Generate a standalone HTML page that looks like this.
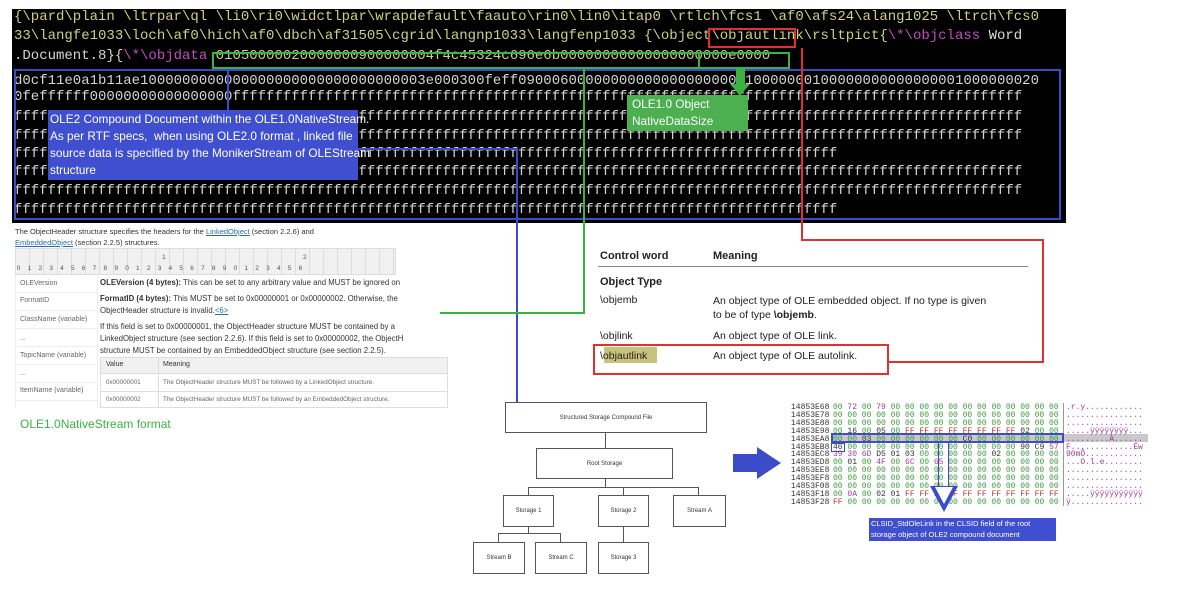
<!DOCTYPE html>
<html><head><meta charset="utf-8"><style>
*{margin:0;padding:0;box-sizing:border-box}
body{width:1200px;height:608px;background:#fff;position:relative;overflow:hidden;font-family:"Liberation Sans",sans-serif}
.a{position:absolute}
.blk{left:12px;top:9px;width:1054px;height:214px;background:#000}
.ml{position:absolute;left:14px;font-family:"Liberation Mono",monospace;font-size:14px;line-height:18px;white-space:pre;color:#d4d4d4}
.y{color:#cfcf7e}.m{color:#c44ac4}
.lbl{color:#fff;font-size:11.8px;line-height:17px;white-space:nowrap}
.sm{font-size:7px;color:#666}
.hx{position:absolute;font-family:"Liberation Mono",monospace;font-size:8px;line-height:7.9px;white-space:pre}
.g{color:#3a9a3a}.p{color:#a03a9a}.r{color:#c03030}.k{color:#333}
.tb{position:absolute;border:1px solid #555;background:#fff;font-size:6px;color:#333;display:flex;align-items:center;justify-content:center}
.ln{position:absolute;background:#555}
.dt{position:absolute;left:100px;font-size:7.8px;color:#333;white-space:nowrap}
</style></head><body>
<div class="a blk"></div>
<div class="ml y" style="top:8px">{\pard\plain \ltrpar\ql \li0\ri0\widctlpar\wrapdefault\faauto\rin0\lin0\itap0 \rtlch\fcs1 \af0\afs24\alang1025 \ltrch\fcs0</div>
<div class="ml y" style="top:27px">33\langfe1033\loch\af0\hich\af0\dbch\af31505\cgrid\langnp1033\langfenp1033 {\object\objautlink\rsltpict{<span class="m">\*\objclass</span> <span style="color:#ddd">Word</span></div>
<div class="ml" style="top:47px">.Document.8}{<span class="m">\*\objdata</span> <span class="y">01050000020000000900000004f4c45324c696e6b00000000000000000000e0000</span></div>
<div class="ml" style="top:72px">d0cf11e0a1b11ae1000000000000000000000000000000003e000300feff09000600000000000000000000010000000100000000000000001000000020</div>
<div class="ml" style="top:88px">0feffffff00000000000000000ffffffffffffffffffffffffffffffffffffffffffffffffffffffffffffffffffffffffffffffffffffffffffffff</div>
<div class="ml" style="top:108px">ffffffffffffffffffffffffffffffffffffffffffffffffffffffffffffffffffffffffffffffffffffffffffffffffffffffffffffffffffffffff</div>
<div class="ml" style="top:127px">ffffffffffffffffffffffffffffffffffffffffffffffffffffffffffffffffffffffffffffffffffffffffffffffffffffffffffffffffffffffff</div>
<div class="ml" style="top:145px">ffffffffffffffffffffffffffffffffffffffffffffffffffffffffffffffffffffffffffffffffffffffffffffffffff</div>
<div class="ml" style="top:163px">ffffffffffffffffffffffffffffffffffffffffffffffffffffffffffffffffffffffffffffffffffffffffffffffffffffffffffffffffffffffff</div>
<div class="ml" style="top:182px">ffffffffffffffffffffffffffffffffffffffffffffffffffffffffffffffffffffffffffffffffffffffffffffffffffffffffffffffffffffffff</div>
<div class="ml" style="top:201px">ffffffffffffffffffffffffffffffffffffffffffffffffffffffffffffffffffffffffffffffffffffffffffffffffff</div>
<!-- overlays -->
<div class="a" style="left:212px;top:52px;width:578px;height:17px;border:2px solid #3cb043"></div>
<div class="a" style="left:698px;top:52px;width:92px;height:17px;border:2px solid #3cb043"></div>
<div class="a" style="left:708px;top:28px;width:88px;height:20px;border:2px solid #e03030"></div>
<div class="a" style="left:14px;top:69px;width:1047px;height:151px;border:2px solid #3c4bc8"></div>
<div class="a" style="left:227px;top:69px;width:2px;height:41px;background:#3c4bc8"></div>
<div class="a" style="left:48px;top:110px;width:310px;height:70px;background:#3f4fd0"></div>
<div class="a lbl" style="left:50px;top:111px">OLE2 Compound Document within the OLE1.0NativeStream.<br>As per RTF specs,&nbsp; when using OLE2.0 format , linked file<br>source data is specified by the MonikerStream of OLEStream<br>structure</div>
<div class="a" style="left:736px;top:69px;width:9px;height:16px;background:#3cb043"></div>
<div class="a" style="left:730px;top:84px;width:0;height:0;border-left:10px solid transparent;border-right:10px solid transparent;border-top:12px solid #3cb043"></div>
<div class="a" style="left:627px;top:95px;width:121px;height:36px;background:#4caf50"></div>
<div class="a lbl" style="left:632px;top:96px">OLE1.0 Object<br>NativeDataSize</div>
<!-- connectors -->
<div class="a" style="left:358px;top:148px;width:160px;height:2px;background:#3c4bc8"></div>
<div class="a" style="left:516px;top:148px;width:2px;height:254px;background:#3c4bc8"></div>
<div class="a" style="left:583px;top:69px;width:2px;height:245px;background:#3cb043"></div>
<div class="a" style="left:440px;top:312px;width:145px;height:2px;background:#3cb043"></div>
<div class="a" style="left:801px;top:48px;width:2px;height:193px;background:#e03030"></div>
<div class="a" style="left:801px;top:239px;width:243px;height:2px;background:#e03030"></div>
<div class="a" style="left:1042px;top:239px;width:2px;height:124px;background:#e03030"></div>
<div class="a" style="left:888px;top:361px;width:156px;height:2px;background:#e03030"></div>
<!-- right table -->
<div class="a" style="left:600px;top:250px;font-size:11px;font-weight:bold;color:#222">Control word</div>
<div class="a" style="left:713px;top:250px;font-size:11px;font-weight:bold;color:#222">Meaning</div>
<div class="a" style="left:598px;top:266px;width:430px;height:1px;background:#888"></div>
<div class="a" style="left:600px;top:276px;font-size:11px;font-weight:bold;color:#222">Object Type</div>
<div class="a" style="left:600px;top:294px;font-size:10.5px;color:#222">\objemb</div>
<div class="a" style="left:713px;top:294px;font-size:10.5px;color:#222;line-height:14px">An object type of OLE embedded object. If no type is given<br>to be of type <b>\objemb</b>.</div>
<div class="a" style="left:600px;top:330px;font-size:10.5px;color:#222">\objlink</div>
<div class="a" style="left:713px;top:330px;font-size:10.5px;color:#222">An object type of OLE link.</div>
<div class="a" style="left:604px;top:347px;width:53px;height:16px;background:#c8c27a"></div>
<div class="a" style="left:600px;top:350px;font-size:10.5px;color:#222">\objautlink</div>
<div class="a" style="left:713px;top:350px;font-size:10.5px;color:#222">An object type of OLE autolink.</div>
<div class="a" style="left:593px;top:344px;width:296px;height:31px;border:2px solid #e03030"></div>
<!-- left doc -->
<div class="a" style="left:15px;top:226px;font-size:7.5px;color:#333;line-height:11px">The ObjectHeader structure specifies the headers for the <u style="color:#2a6db3">LinkedObject</u> (section 2.2.6) and<br><u style="color:#2a6db3">EmbeddedObject</u> (section 2.2.5) structures.</div>
<div class="a" style="left:15px;top:248px;width:381px;height:27px;background:#f1f1f1;border:1px solid #ddd;background-image:repeating-linear-gradient(90deg,transparent 0 13px,#ddd 13px 14px)"></div>
<div class="a" style="left:15px;top:265px;width:381px;font-size:6.5px;color:#555;white-space:pre"> 0    1    2    3    4    5    6    7    8    9    0    1    2    3    4    5    6    7    8    9    0    1    2    3    4    5    6</div>
<div class="a" style="left:162px;top:254px;font-size:6.5px;color:#555">1</div>
<div class="a" style="left:303px;top:254px;font-size:6.5px;color:#555">2</div>
<div class="a sm" style="left:20px;top:280px">OLEVersion</div>
<div class="a sm" style="left:20px;top:297px">FormatID</div>
<div class="a sm" style="left:20px;top:316px">ClassName (variable)</div>
<div class="a sm" style="left:20px;top:335px">...</div>
<div class="a sm" style="left:20px;top:352px">TopicName (variable)</div>
<div class="a sm" style="left:20px;top:370px">...</div>
<div class="a sm" style="left:20px;top:387px">ItemName (variable)</div>
<div class="a" style="left:15px;top:275px;width:83px;height:133px;border-right:1px solid #eee;border-left:1px solid #eee;background-image:repeating-linear-gradient(180deg,transparent 0 17px,#eee 17px 18px)"></div>
<div class="dt" style="top:278px"><b>OLEVersion (4 bytes):</b> This can be set to any arbitrary value and MUST be ignored on</div>
<div class="dt" style="top:294px"><b>FormatID (4 bytes):</b> This MUST be set to 0x00000001 or 0x00000002. Otherwise, the</div>
<div class="dt" style="top:306px">ObjectHeader structure is invalid.<u style="color:#2a6db3">&lt;6&gt;</u></div>
<div class="dt" style="top:322px">If this field is set to 0x00000001, the ObjectHeader structure MUST be contained by a</div>
<div class="dt" style="top:334px">LinkedObject structure (see section 2.2.6). If this field is set to 0x00000002, the ObjectH</div>
<div class="dt" style="top:346px">structure MUST be contained by an EmbeddedObject structure (see section 2.2.5).</div>
<div class="a" style="left:100px;top:357px;width:348px;height:17px;background:#f1f1f1;border:1px solid #ddd"></div>
<div class="a" style="left:100px;top:374px;width:348px;height:34px;border:1px solid #ddd;border-top:none"></div>
<div class="a" style="left:158px;top:357px;width:1px;height:51px;background:#ddd"></div>
<div class="a" style="left:100px;top:391px;width:348px;height:1px;background:#ddd"></div>
<div class="a" style="left:106px;top:361px;font-size:7px;color:#333">Value</div>
<div class="a" style="left:163px;top:361px;font-size:7px;color:#333">Meaning</div>
<div class="a sm" style="left:106px;top:379px;font-size:6.3px">0x00000001</div>
<div class="a sm" style="left:163px;top:379px;font-size:6.3px">The ObjectHeader structure MUST be followed by a LinkedObject structure.</div>
<div class="a sm" style="left:106px;top:396px;font-size:6.3px">0x00000002</div>
<div class="a sm" style="left:163px;top:396px;font-size:6.3px">The ObjectHeader structure MUST be followed by an EmbeddedObject structure.</div>
<div class="a" style="left:20px;top:417px;font-size:12px;color:#3cb043">OLE1.0NativeStream format</div>
<!-- tree -->
<div class="tb" style="left:505px;top:402px;width:202px;height:31px">Structured Storage Compound File</div>
<div class="ln" style="left:605px;top:433px;width:1px;height:15px"></div>
<div class="tb" style="left:536px;top:448px;width:137px;height:31px">Root Storage</div>
<div class="ln" style="left:605px;top:479px;width:1px;height:8px"></div>
<div class="ln" style="left:528px;top:487px;width:171px;height:1px"></div>
<div class="ln" style="left:528px;top:487px;width:1px;height:8px"></div>
<div class="ln" style="left:623px;top:487px;width:1px;height:8px"></div>
<div class="ln" style="left:698px;top:487px;width:1px;height:8px"></div>
<div class="tb" style="left:503px;top:495px;width:51px;height:32px">Storage 1</div>
<div class="tb" style="left:598px;top:495px;width:51px;height:32px">Storage 2</div>
<div class="tb" style="left:673px;top:495px;width:53px;height:32px">Stream A</div>
<div class="ln" style="left:528px;top:527px;width:1px;height:6px"></div>
<div class="ln" style="left:498px;top:533px;width:63px;height:1px"></div>
<div class="ln" style="left:498px;top:533px;width:1px;height:9px"></div>
<div class="ln" style="left:560px;top:533px;width:1px;height:9px"></div>
<div class="ln" style="left:623px;top:527px;width:1px;height:15px"></div>
<div class="tb" style="left:473px;top:542px;width:52px;height:32px">Stream B</div>
<div class="tb" style="left:535px;top:542px;width:52px;height:32px">Stream C</div>
<div class="tb" style="left:598px;top:542px;width:51px;height:32px">Storage 3</div>
<!-- big arrow -->
<div class="a" style="left:733px;top:454px;width:26px;height:18px;background:#3c4bc8"></div>
<div class="a" style="left:757px;top:447px;width:0;height:0;border-top:16px solid transparent;border-bottom:16px solid transparent;border-left:24px solid #3c4bc8"></div>
<!-- hex -->
<div class="a" style="left:831px;top:434px;width:233px;height:8px;background:#c8c8c8"></div>
<div class="a" style="left:1064px;top:434px;width:84px;height:8px;background:#c8c8c8"></div>
<div class="hx k" style="left:791px;top:404px">14853E68
14853E78
14853E88
14853E98
14853EA8
14853EB8
14853EC8
14853ED8
14853EE8
14853EF8
14853F08
14853F18
14853F28</div>
<div class="hx g" style="left:833px;top:404px">00 <span class="p">72</span> 00 <span class="p">79</span> 00 00 00 00 00 00 00 00 00 00 00 00
00 00 00 00 00 00 00 00 00 00 00 00 00 00 00 00
00 00 00 00 00 00 00 00 00 00 00 00 00 00 00 00
00 <span class="k">16</span> 00 <span class="k">05</span> 00 <span class="r">FF FF FF FF FF FF FF FF</span> <span class="k">02</span> 00 00
00 00 <span class="k">03</span> 00 00 00 00 00 00 <span class="k">C0</span> 00 00 00 00 00 00
<span class="k">46</span> 00 00 00 00 00 00 00 00 00 00 00 00 <span class="k">90 C9</span> <span class="p">57</span>
<span class="p">39 30 6D</span> <span class="k">D5 01 03</span> 00 00 00 00 00 <span class="k">02</span> 00 00 00 00
00 <span class="k">01</span> 00 <span class="p">4F</span> 00 <span class="p">6C</span> 00 <span class="p">65</span> 00 00 00 00 00 00 00 00
00 00 00 00 00 00 00 00 00 00 00 00 00 00 00 00
00 00 00 00 00 00 00 00 00 00 00 00 00 00 00 00
00 00 00 00 00 00 00 00 00 00 00 00 00 00 00 00
00 <span class="p">0A</span> 00 <span class="k">02 01</span> <span class="r">FF FF FF FF FF FF FF FF FF FF FF</span>
<span class="r">FF</span> 00 00 00 00 00 00 00 00 00 00 00 00 00 00 00</div>
<div class="hx p" style="left:1066px;top:404px">.r.y............
................
................
.....ÿÿÿÿÿÿÿÿ...
.........À......
F.............Éw
90mÕ............
...O.l.e........
................
................
................
.....ÿÿÿÿÿÿÿÿÿÿÿ
ÿ...............</div>
<div class="a" style="left:1063px;top:403px;width:1px;height:103px;background:#999"></div>
<div class="a" style="left:831px;top:433px;width:233px;height:10px;border:2px solid #3c4bc8"></div>
<div class="a" style="left:831px;top:443px;width:14px;height:9px;border:1px solid #3c4bc8"></div>
<div class="a" style="left:938px;top:443px;width:11px;height:43px;border:1.5px solid #3c4bc8;border-top:none;border-bottom:none"></div>
<div class="a" style="left:930px;top:486px;width:0;height:0;border-left:14px solid transparent;border-right:14px solid transparent;border-top:26px solid #3c4bc8"></div>
<div class="a" style="left:935px;top:487px;width:0;height:0;border-left:9px solid transparent;border-right:9px solid transparent;border-top:17px solid #fff"></div>
<div class="a" style="left:869px;top:518px;width:187px;height:23px;background:#3f4fd0"></div>
<div class="a" style="left:871px;top:519px;color:#fff;font-size:7.5px;line-height:10.5px">CLSID_StdOleLink in the CLSID field of the root<br>storage object of OLE2 compound document</div>
</body></html>
